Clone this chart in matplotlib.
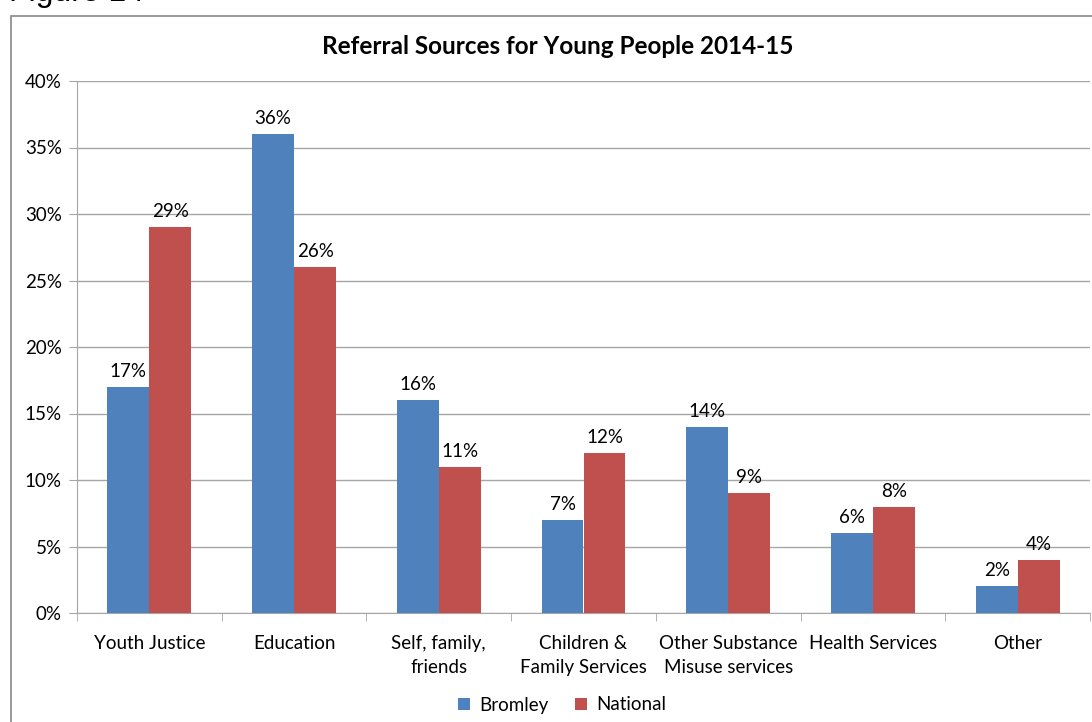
import matplotlib
matplotlib.use("Agg")
import matplotlib.pyplot as plt
import numpy as np
from matplotlib.patches import Rectangle
from matplotlib.ticker import FuncFormatter, FixedLocator


# Referral sources, percent of young people
categories = ["Youth Justice", "Education", "Self, family,\nfriends", "Children &\nFamily Services",
              "Other Substance\nMisuse services", "Health Services", "Other"]
bromley = [17, 36, 16, 7, 14, 6, 2]
national = [29, 26, 11, 12, 9, 8, 4]
series_names = ["Bromley", "National"]

BLUE = "#4F81BD"
RED = "#C0504D"
GRID = "#A6A6A6"
FS = 13.5

plt.rcParams["font.family"] = ["Lato", "DejaVu Sans"]

fig = plt.figure(figsize=(10.92, 7.22), dpi=100)
ax = fig.add_axes([77 / 1092, 1 - 613 / 722, 1013 / 1092, 532 / 722])

# Outer chart frame and the caption above it
fig.patches.append(Rectangle((11 / 1092, -0.05), 1.2, 0.05 + 1 - 16 / 722, transform=fig.transFigure,
                             fill=False, edgecolor="#878787", linewidth=1.2))
fig.text(9 / 1092, 1 - 8 / 722, "Figure 14", fontsize=23, family="Liberation Sans",
         va="bottom", ha="left", color="black")

x = np.arange(len(categories))
w = 0.29
b1 = ax.bar(x - w / 2, bromley, w, color=BLUE, label=series_names[0], zorder=3)
b2 = ax.bar(x + w / 2, national, w, color=RED, label=series_names[1], zorder=3)

for bars, vals in ((b1, bromley), (b2, national)):
    for bar, v in zip(bars, vals):
        ax.annotate(f"{v}%", (bar.get_x() + bar.get_width() / 2, v), xytext=(0, 5),
                    textcoords="offset points", ha="center", va="bottom", fontsize=FS)

ax.set_xlim(-0.5, len(categories) - 0.5)
ax.set_ylim(0, 40)
ax.yaxis.set_major_locator(FixedLocator(range(0, 41, 5)))
ax.yaxis.set_major_formatter(FuncFormatter(lambda v, p: f"{v:.0f}%"))
ax.grid(axis="y", color=GRID, linewidth=1, zorder=0)

ax.set_xticks(x)
ax.set_xticklabels(categories, fontsize=FS, linespacing=1.45)
ax.xaxis.set_minor_locator(FixedLocator(np.arange(-0.5, len(categories), 1)))
ax.tick_params(axis="x", which="major", length=0, pad=16)
ax.tick_params(axis="x", which="minor", length=6, color=GRID, direction="out")
ax.tick_params(axis="y", length=6, color=GRID, labelsize=FS, pad=5)

for side in ("top", "right"):
    ax.spines[side].set_visible(False)
for side in ("left", "bottom"):
    ax.spines[side].set_color(GRID)

# Title sits centred on the chart frame rather than the plot area
fig.text(558 / 1092, 1 - 46 / 722, "Referral Sources for Young People 2014-15", fontsize=17.5,
         fontweight="bold", ha="center", va="center")

fig.legend(handles=[b1, b2], loc="center", bbox_to_anchor=(562 / 1092, 1 - 705 / 722), ncol=2,
           frameon=False, fontsize=FS, handlelength=0.65, handleheight=0.65, handletextpad=0.5,
           columnspacing=1.4)

fig.savefig("out.png", dpi=100)
